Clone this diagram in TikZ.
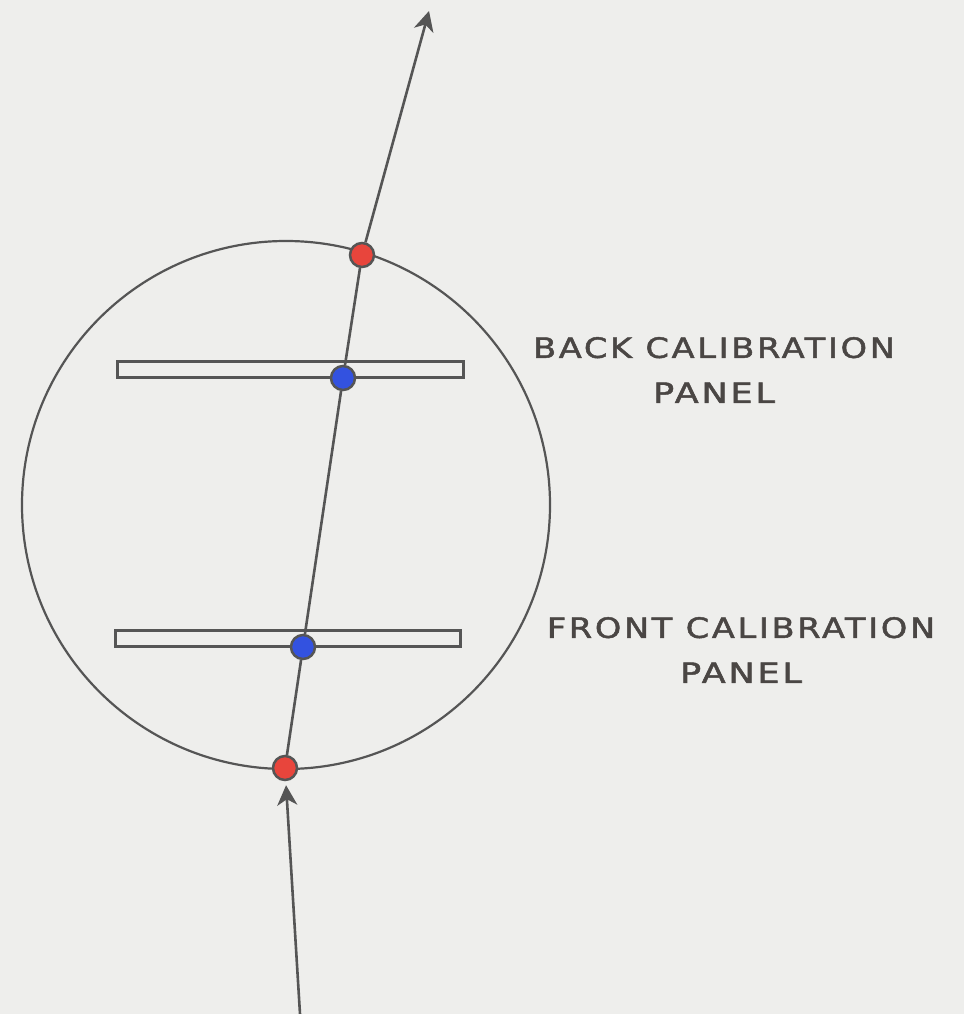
\documentclass[tikz,border=0pt]{standalone}
\usepackage{fontspec}
\setmainfont{DejaVu Sans}
\newfontfamily\labelfont[LetterSpace=8,FakeBold=1.6]{DejaVu Sans}
\usetikzlibrary{arrows.meta}
\definecolor{bg}{HTML}{EEEEEC}
\definecolor{ink}{HTML}{555555}
\definecolor{txt}{HTML}{4A4644}
\definecolor{dotred}{HTML}{E8453C}
\definecolor{dotblue}{HTML}{3352E0}
\tikzset{
  inkline/.style={draw=ink, line width=2.2pt},
  panelbox/.style={draw=ink, line width=3pt, fill=bg, inner sep=0pt, minimum height=16pt},
  reddot/.style={circle, draw=ink, line width=2.5pt, fill=dotred, minimum size=24pt, inner sep=0pt},
  bluedot/.style={circle, draw=ink, line width=2.5pt, fill=dotblue, minimum size=24pt, inner sep=0pt},
  ray/.style={draw=ink, line width=2.6pt},
  rayarrow/.style={ray, -{Stealth[length=20pt,width=20pt,inset=6pt]}},
  caption/.style={text=txt, align=center, font=\labelfont\fontsize{28}{45}\selectfont, inner sep=0pt}
}
\begin{document}
\begin{tikzpicture}[x=1pt,y=-1pt]
\fill[bg] (0,0) rectangle (964,1014);
\useasboundingbox (0,0) rectangle (964,1014);
\node[circle, inkline, minimum size=528pt, inner sep=0pt] (sphere) at (286,505) {};
\node[panelbox, minimum width=346pt] (back) at (290,369) {};
\node[panelbox, minimum width=345pt] (front) at (287.5,638) {};
\coordinate (top) at (429,11);
\coordinate (bottom) at (300,1014);
\node[reddot] (rt) at (362,255) {};
\node[bluedot] (bb) at (343,378) {};
\node[bluedot] (fb) at (303,647) {};
\node[reddot] (rb) at (285,768) {};
\draw[ray] (rb) -- (fb);
\draw[ray] (fb) -- (bb);
\draw[ray] (bb) -- (rt);
\draw[rayarrow] (rt) -- (top);
\draw[rayarrow, shorten >=4pt] (bottom) -- (rb);
\node[caption] (backlbl) at (714,370) {\scalebox{1.2}[1]{BACK CALIBRATION}\\\scalebox{1.25}[1]{PANEL}};
\node[caption] (frontlbl) at (741,650) {\scalebox{1.2}[1]{FRONT CALIBRATION}\\\scalebox{1.25}[1]{PANEL}};
\end{tikzpicture}
\end{document}
